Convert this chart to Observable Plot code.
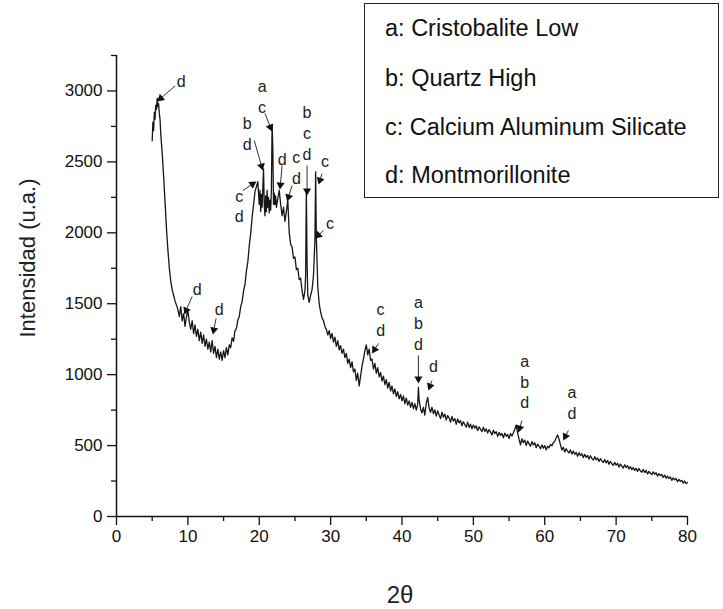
<!DOCTYPE html>
<html>
<head>
<meta charset="utf-8">
<script src="https://cdn.jsdelivr.net/npm/d3@7"></script>
<script src="https://cdn.jsdelivr.net/npm/@observablehq/plot@0.6"></script>
<style>
  body { margin: 0; background: #fff; font-family: Arial, "Liberation Sans", sans-serif; }
  #wrap { position: relative; width: 723px; height: 609px; overflow: hidden; }
  #legend { position: absolute; left: 364px; top: 3px; width: 353px; height: 193px; border: 1.5px solid #222; background: #fff; }
  #legend div { position: absolute; left: 20px; font-size: 23.5px; line-height: 1; color: #111; transform: translateY(-50%); white-space: nowrap; }
  #ylab { position: absolute; left: 28px; top: 258px; transform: translate(-50%, -50%) rotate(-90deg); font-size: 22px; color: #222; white-space: nowrap; }
  #xlab { position: absolute; left: 400px; top: 595px; transform: translate(-50%, -50%); font-size: 24px; color: #222; white-space: nowrap; }
</style>
</head>
<body>
<div id="wrap">
  <div id="chart"></div>
  <div id="legend"></div>
  <div id="ylab"></div>
  <div id="xlab"></div>
</div>
<script>
// ---- Scan data: [2θ, intensity] ----
const scanLow = [
  [5.0,2650],[5.1,2780],[5.2,2720],[5.3,2850],[5.4,2800],[5.5,2900],[5.6,2870],[5.7,2950],
  [5.8,2890],[5.9,2910],[6.0,2840],[6.1,2800],[6.2,2700],[6.4,2560],[6.6,2400],[6.8,2220],
  [7.0,2030],[7.2,1880],[7.4,1750],[7.6,1660],[7.8,1600],[8.0,1560],[8.2,1520],[8.4,1490],
  [8.6,1460],[8.8,1410],[9.0,1480],[9.2,1380],[9.4,1430],[9.6,1340],[9.8,1410],[10.0,1450],
  [10.2,1370],[10.4,1320],[10.6,1380],[10.8,1290],[11.0,1350],[11.2,1270],[11.4,1320],[11.6,1240],
  [11.8,1300],[12.0,1220],[12.2,1280],[12.4,1200],[12.6,1250],[12.8,1180],[13.0,1230],[13.2,1160],
  [13.4,1240],[13.6,1150],[13.8,1200],[14.0,1120],[14.2,1180],[14.4,1110],[14.6,1160],[14.8,1100],
  [15.0,1170],[15.2,1120],[15.4,1190],[15.6,1140],[15.8,1210]
];
const scanMain = [
  [16.0,1190],[16.2,1260],[16.4,1235],[16.6,1310],[16.8,1325],[17.0,1385],[17.2,1410],[17.4,1480],
  [17.6,1515],[17.8,1590],[18.0,1635],[18.2,1730],[18.4,1795],[18.6,1910],[18.8,1995],[19.0,2110],
  [19.2,2195],[19.4,2290],[19.6,2325],[19.8,2360],[20.0,2200],[20.1,2300],[20.2,2150],[20.3,2270],
  [20.4,2180],[20.5,2320],[20.6,2450],[20.7,2200],[20.8,2120],[20.9,2260],[21.0,2150],[21.1,2300],
  [21.2,2180],[21.3,2250],[21.4,2140],[21.5,2230],[21.6,2160],[21.7,2300],[21.8,2760],[21.9,2600],
  [22.0,2200],[22.1,2280],[22.2,2200],[22.3,2260],[22.4,2180],[22.6,2240],[22.8,2300],[23.0,2200],
  [23.2,2120],[23.4,2180],[23.6,2080],[23.8,2150],[24.0,2230],[24.2,2000],[24.4,1920],[24.6,1900],
  [24.8,1820],[25.0,1830],[25.2,1740],[25.4,1750],[25.6,1670],[25.8,1680],[26.0,1590],[26.2,1530],
  [26.4,1590],[26.5,1700],[26.6,2300],[26.7,1800],[26.8,1560],[27.0,1510],[27.2,1560],[27.4,1600],
  [27.6,1700],[27.8,1950],[27.9,2430],[28.0,1960],[28.1,1800],[28.2,1620],[28.4,1500],[28.6,1440],
  [28.8,1400],[29.0,1380],[29.2,1340],[29.4,1320],[29.6,1280],[29.8,1310]
];
const scanTail = [
  [30.0,1255],[30.2,1290],[30.4,1230],[30.6,1265],[30.8,1200],[31.0,1240],[31.2,1175],[31.4,1205],
  [31.6,1150],[31.8,1180],[32.0,1120],[32.2,1150],[32.4,1080],[32.6,1110],[32.8,1050],[33.0,1090],
  [33.2,1020],[33.4,1040],[33.6,960],[33.8,1010],[34.0,920],[34.2,990],[34.4,1060],[34.6,1110],
  [34.8,1170],[35.0,1210],[35.2,1140],[35.4,1180],[35.6,1100],[35.8,1110],[36.0,1040],[36.2,1080],
  [36.4,1010],[36.6,1050],[36.8,985],[37.0,1015],[37.2,955],[37.4,990],[37.6,930],[37.8,965],
  [38.0,905],[38.2,945],[38.4,885],[38.6,920],[38.8,865],[39.0,900],[39.2,845],[39.4,880],
  [39.6,830],[39.8,860],[40.0,815],[40.2,850],[40.4,795],[40.6,835],[40.8,785],[41.0,815],
  [41.2,770],[41.4,805],[41.6,760],[41.8,795],[42.0,750],[42.2,790],[42.3,910],[42.4,820],
  [42.6,760],[42.8,730],[43.0,770],[43.2,715],[43.4,800],[43.6,840],[43.8,765],[44.0,735],
  [44.2,770],[44.4,725],[44.6,752],[44.8,708],[45.0,745],[45.2,715],[45.4,690],[45.6,735],
  [45.8,700],[46.0,722],[46.2,680],[46.4,712],[46.6,695],[46.8,665],[47.0,705],[47.2,672],
  [47.4,690],[47.6,650],[47.8,688],[48.0,660],[48.2,676],[48.4,640],[48.6,668],[48.8,648],
  [49.0,630],[49.2,665],[49.4,628],[49.6,650],[49.8,618],[50.0,645],[50.2,622],[50.4,640],
  [50.6,605],[50.8,632],[51.0,615],[51.2,598],[51.4,630],[51.6,600],[51.8,618],[52.0,588],
  [52.2,612],[52.4,595],[52.6,575],[52.8,608],[53.0,585],[53.2,598],[53.4,565],[53.6,592],
  [53.8,572],[54.0,585],[54.2,555],[54.4,588],[54.6,565],[54.8,578],[55.0,550],[55.2,585],
  [55.4,568],[55.6,590],[55.8,615],[56.0,645],[56.2,590],[56.4,545],[56.6,505],[56.8,548],
  [57.0,520],[57.2,538],[57.4,500],[57.6,532],[57.8,512],[58.0,495],[58.2,528],[58.4,505],
  [58.6,520],[58.8,485],[59.0,510],[59.2,495],[59.4,478],[59.6,505],[59.8,482],[60.0,500],
  [60.2,470],[60.4,495],[60.6,485],[60.8,508],[61.0,498],[61.2,520],[61.4,530],[61.6,555],
  [61.8,575],[62.0,545],[62.2,505],[62.4,470],[62.6,488],[62.8,455],[63.0,478],[63.2,460],
  [63.4,448],[63.6,470],[63.8,440],[64.0,462],[64.2,438],[64.4,452],[64.6,425],[64.8,450],
  [65.0,430],[65.2,442],[65.4,415],[65.6,438],[65.8,418],[66.0,430],[66.2,405],[66.4,428],
  [66.6,410],[66.8,398],[67.0,422],[67.2,400],[67.4,412],[67.6,388],[67.8,408],[68.0,392],
  [68.2,380],[68.4,402],[68.6,378],[68.8,395],[69.0,368],[69.2,388],[69.4,372],[69.6,360],
  [69.8,382],[70.0,362],[70.2,375],[70.4,348],[70.6,370],[70.8,355],[71.0,342],[71.2,365],
  [71.4,345],[71.6,358],[71.8,335],[72.0,352],[72.2,330],[72.4,345],[72.6,325],[72.8,340],
  [73.0,318],[73.2,338],[73.4,322],[73.6,312],[73.8,332],[74.0,310],[74.2,325],[74.4,300],
  [74.6,318],[74.8,305],[75.0,295],[75.2,315],[75.4,298],[75.6,308],[75.8,285],[76.0,302],
  [76.2,288],[76.4,296],[76.6,275],[76.8,292],[77.0,270],[77.2,285],[77.4,268],[77.6,278],
  [77.8,255],[78.0,272],[78.2,258],[78.4,268],[78.6,245],[78.8,262],[79.0,248],[79.2,255],
  [79.4,235],[79.6,250],[79.8,232],[80.0,240]
];

// ---- Peak annotations ----
const annotText = ["d","d","d","c\nd","b\nd","a\nc","d","c\nd","b\nc\nd","c","c","c\nd","a\nb\nd","d","a\nb\nd","a\nd"];
const annotX    = [9.05,11.3,14.4,17.2,18.3,20.4,23.2,25.2,26.7,29.2,29.9,37.0,42.3,44.4,57.2,63.8];
const annotY    = [3078,1609,1467,2193,2707,2968,2524,2467,2707,2510,2073,1396,1368,1065,955,808];
const arrowFromX = [8.2,10.6,13.95,17.7,19.3,20.8,23.2,24.6,26.7,28.8,29.0,36.7,42.3,44.2,56.8,63.3];
const arrowFromY = [3035,1551,1396,2298,2651,2841,2474,2333,2474,2418,2016,1220,1135,959,677,606];
const arrowToX   = [5.7,9.5,13.5,19.6,20.5,21.8,22.9,23.9,26.7,28.3,27.8,35.8,42.3,43.7,56.3,62.6];
const arrowToY   = [2926,1424,1283,2362,2439,2714,2305,2221,2263,2340,1960,1149,938,889,592,536];

// ---- Axes / ticks ----
const xDomain = [0, 80], yDomain = [0, 3250];
const xMajor = [0,10,20,30,40,50,60,70,80];
const xMinor = [5,15,25,35,45,55,65,75];
const yMajor = [0,500,1000,1500,2000,2500,3000];
const yMinor = [250,750,1250,1750,2250,2750,3250];

// ---- Texts ----
const legendItems = ["a: Cristobalite Low","b: Quartz High","c: Calcium Aluminum Silicate","d: Montmorillonite"];
const yLabel = "Intensidad (u.a.)";
const xLabel = "2θ";

// ---- Layout ----
const W = 723, H = 609, mL = 116, mR = 36, mT = 55, mB = 93;

const scan = [...scanLow, ...scanMain, ...scanTail].map(([x, y]) => ({x, y}));
const annots = annotText.map((t, i) => ({t, x: annotX[i], y: annotY[i]}));

// arrow heads: filled triangles, positioned through Plot's own scales
const sx = Plot.scale({x: {domain: xDomain, range: [mL, W - mR]}});
const sy = Plot.scale({y: {domain: yDomain, range: [H - mB, mT]}});
const headR = 3;
const headHalf = Math.sqrt(Math.PI * headR * headR / (Math.sqrt(3) * 3));
const arrows = arrowFromX.map((_, i) => {
  const fx = sx.apply(arrowFromX[i]), fy = sy.apply(arrowFromY[i]);
  const tx = sx.apply(arrowToX[i]), ty = sy.apply(arrowToY[i]);
  const dx = tx - fx, dy = ty - fy, len = Math.hypot(dx, dy);
  const ux = dx / len, uy = dy / len;
  const cx = tx - ux * 2 * headHalf, cy = ty - uy * 2 * headHalf;
  return {
    x1: arrowFromX[i], y1: arrowFromY[i],
    hx: sx.invert(cx), hy: sy.invert(cy),
    rot: Math.atan2(dx, -dy) * 180 / Math.PI
  };
});

const chart = Plot.plot({
  width: W, height: H,
  marginLeft: mL, marginRight: mR, marginTop: mT, marginBottom: mB,
  style: {fontFamily: "Arial, 'Liberation Sans', sans-serif", fontSize: "17px", color: "#111", background: "transparent"},
  x: {domain: xDomain, label: null},
  y: {domain: yDomain, label: null},
  marks: [
    Plot.axisX(xMajor, {tickSize: 9, tickPadding: 4, fontSize: 17, label: null, tickFormat: d => String(d), strokeWidth: 1.3}),
    Plot.axisX(xMinor, {tickSize: 5, label: null, tickFormat: () => "", strokeWidth: 1.3}),
    Plot.axisY(yMajor, {tickSize: 9, tickPadding: 5, fontSize: 17, label: null, tickFormat: d => String(d), strokeWidth: 1.3}),
    Plot.axisY(yMinor, {tickSize: 5, label: null, tickFormat: () => "", strokeWidth: 1.3}),
    Plot.ruleY([0], {stroke: "#111", strokeWidth: 1.5}),
    Plot.ruleX([0], {stroke: "#111", strokeWidth: 1.5}),
    Plot.line(scan, {x: "x", y: "y", stroke: "#161616", strokeWidth: 1.3}),
    Plot.link(arrows, {x1: "x1", y1: "y1", x2: "hx", y2: "hy", stroke: "#333", strokeWidth: 1}),
    Plot.dot(arrows, {x: "hx", y: "hy", symbol: "triangle", r: headR, rotate: "rot", fill: "#111", stroke: "none"}),
    Plot.text(annots, {x: "x", y: "y", text: "t", fontSize: 16, lineHeight: 1.3, fill: "#222"})
  ]
});
document.getElementById("chart").appendChild(chart);

const legend = document.getElementById("legend");
const legendTops = [25, 75, 124, 172];
legendItems.forEach((s, i) => {
  const d = document.createElement("div");
  d.textContent = s;
  d.style.top = legendTops[i] + "px";
  legend.appendChild(d);
});
document.getElementById("ylab").textContent = yLabel;
document.getElementById("xlab").textContent = xLabel;
</script>
</body>
</html>
